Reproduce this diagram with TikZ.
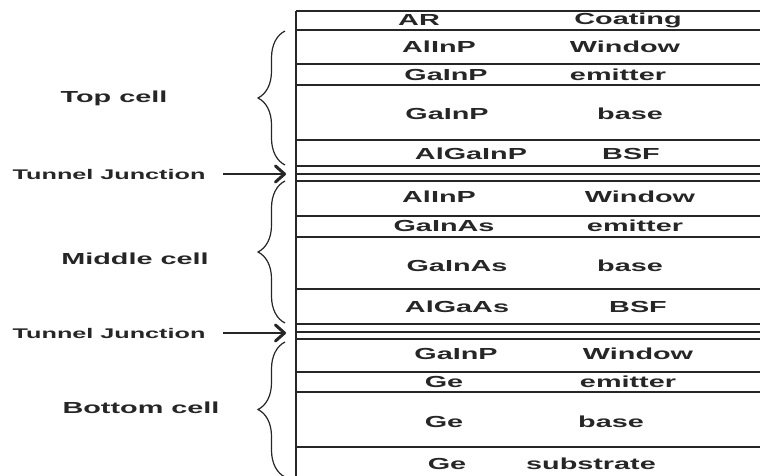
\documentclass[tikz,border=0pt]{standalone}
\usepackage{fontspec}
\setmainfont{Liberation Sans}[FakeStretch=1.8]
\usepackage{tikz}
\usetikzlibrary{arrows.meta,decorations.pathreplacing}

\begin{document}
\begin{tikzpicture}[x=1pt,y=-1pt,line width=1.4pt,draw=black!85,
                    font=\bfseries\fontsize{16}{19}\selectfont]
  \tikzstyle{layer}=[text=black!85,inner sep=0pt,anchor=center]
  \tikzstyle{cell}=[text=black!85,inner sep=0pt]
  \tikzstyle{junc}=[text=black!85,inner sep=0pt,anchor=west,
                    font=\bfseries\fontsize{14}{17}\selectfont]
  \tikzstyle{curly}=[decorate,decoration={brace,amplitude=27pt},
                     line width=1.2pt]
  \tikzstyle{pointer}=[-{Straight Barb[length=9pt,width=16pt,line width=3pt,round]},
                       line width=2.4pt,shorten <=17pt]

  \useasboundingbox (0,0) rectangle (760,476);

  % the layer stack
  \draw (296,11) -- (296,476);
  \draw (296,11) -- (760,11);
  \draw (296,30) -- (760,30);
  \draw (296,64) -- (760,64);
  \draw (296,85) -- (760,85);
  \draw (296,140) -- (760,140);
  \draw[line width=2.2pt] (296,166) -- (760,166);
  \draw (296,174) -- (760,174);
  \draw (296,181) -- (760,181);
  \draw (296,216) -- (760,216);
  \draw (296,237) -- (760,237);
  \draw (296,289) -- (760,289);
  \draw[line width=2.2pt] (296,324) -- (760,324);
  \draw (296,332) -- (760,332);
  \draw (296,339) -- (760,339);
  \draw (296,372) -- (760,372);
  \draw (296,392) -- (760,392);
  \draw (296,447) -- (760,447);

  % materials and layer names
  \node[layer] (arM)   at (419,20)  {AR};
  \node[layer] (arN)   at (628,20)  {Coating};
  \node[layer] (t1M)   at (439,47)  {AlInP};
  \node[layer] (t1N)   at (625,47)  {Window};
  \node[layer] (t2M)   at (446,75)  {GaInP};
  \node[layer] (t2N)   at (618,75)  {emitter};
  \node[layer] (t3M)   at (447,114) {GaInP};
  \node[layer] (t3N)   at (630,114) {base};
  \node[layer] (t4M)   at (471,154) {AlGaInP};
  \node[layer] (t4N)   at (631,154) {BSF};
  \node[layer] (m1M)   at (439,197) {AlInP};
  \node[layer] (m1N)   at (640,197) {Window};
  \node[layer] (m2M)   at (444,226) {GaInAs};
  \node[layer] (m2N)   at (635,226) {emitter};
  \node[layer] (m3M)   at (457,266) {GaInAs};
  \node[layer] (m3N)   at (630,266) {base};
  \node[layer] (m4M)   at (457,307) {AlGaAs};
  \node[layer] (m4N)   at (638,307) {BSF};
  \node[layer] (b1M)   at (456,354) {GaInP};
  \node[layer] (b1N)   at (638,354) {Window};
  \node[layer] (b2M)   at (444,382) {Ge};
  \node[layer] (b2N)   at (628,382) {emitter};
  \node[layer] (b3M)   at (444,422) {Ge};
  \node[layer] (b3N)   at (611,422) {base};
  \node[layer] (b4M)   at (447,464) {Ge};
  \node[layer] (b4N)   at (591,464) {substrate};

  % sub-cells
  \node[cell] (top) at (114,98)  {Top cell};
  \node[cell] (mid) at (135,259) {Middle cell};
  \node[cell] (bot) at (141,408) {Bottom cell};

  \coordinate (topA) at (285,165);
  \coordinate (topB) at (285,31);
  \coordinate (midA) at (285,323);
  \coordinate (midB) at (285,181);
  \coordinate (botA) at (285,477);
  \coordinate (botB) at (285,342);
  \draw[curly] (topA) -- (topB);
  \draw[curly] (midA) -- (midB);
  \draw[curly] (botA) -- (botB);

  % tunnel junctions
  \node[junc] (tj1) at (12,174) {Tunnel Junction};
  \node[junc] (tj2) at (12,333) {Tunnel Junction};
  \coordinate (tj1e) at (286,174);
  \coordinate (tj2e) at (286,333);
  \draw[pointer] (tj1.east) -- (tj1e);
  \draw[pointer] (tj2.east) -- (tj2e);
\end{tikzpicture}
\end{document}
